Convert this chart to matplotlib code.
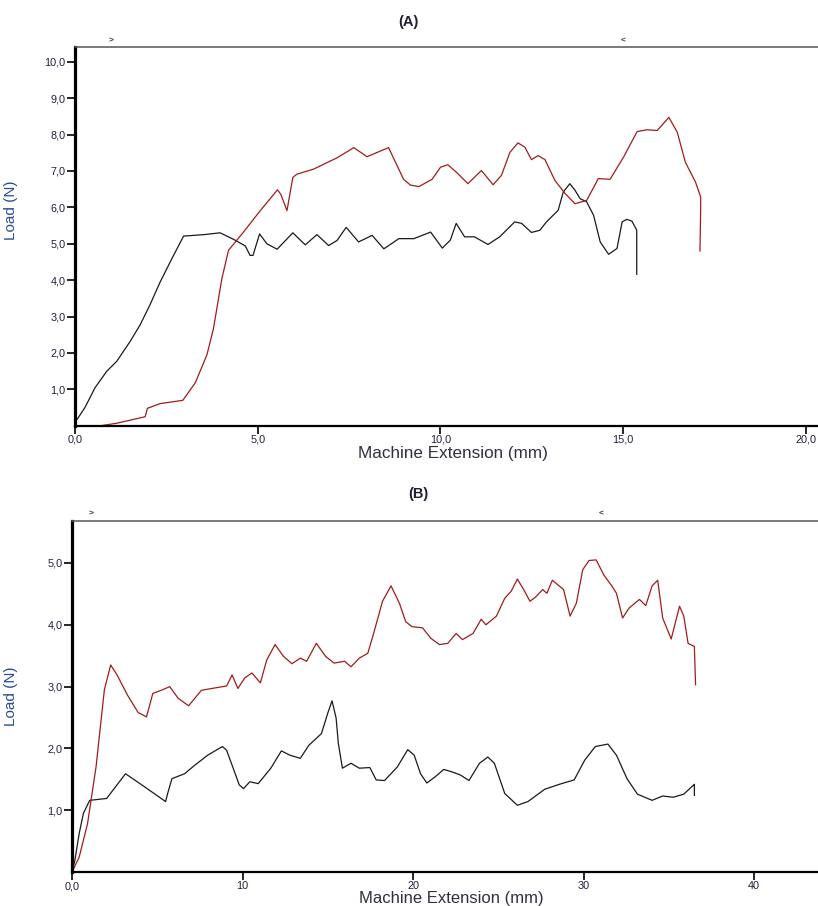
import matplotlib
matplotlib.use("Agg")
import matplotlib.pyplot as plt
from matplotlib.ticker import FuncFormatter

plt.rcParams["font.family"] = ["Liberation Sans", "DejaVu Sans"]

# ---- panel A data (Machine Extension mm, Load N) ----
a_black_x = [0.0, 0.27, 0.55, 0.87, 1.14, 1.51, 1.78, 2.05, 2.33, 2.65, 2.97, 3.52, 3.97,
             4.34, 4.66, 4.79, 4.87, 5.05, 5.25, 5.53, 5.96, 6.3, 6.62, 6.94, 7.17, 7.42,
             7.76, 8.13, 8.45, 8.86, 9.27, 9.73, 10.05, 10.27, 10.43, 10.66, 10.93, 11.3,
             11.62, 12.03, 12.22, 12.49, 12.72, 12.9, 13.22, 13.36, 13.54, 13.68, 13.82,
             14.0, 14.19, 14.37, 14.6, 14.83, 14.97, 15.1, 15.24, 15.37, 15.37]
a_black_y = [0.09, 0.5, 1.05, 1.5, 1.77, 2.32, 2.77, 3.32, 3.95, 4.59, 5.21, 5.25, 5.3,
             5.12, 4.94, 4.68, 4.68, 5.27, 5.0, 4.85, 5.3, 4.97, 5.25, 4.95, 5.09, 5.45,
             5.05, 5.23, 4.86, 5.14, 5.14, 5.32, 4.88, 5.1, 5.56, 5.19, 5.19, 4.98,
             5.19, 5.6, 5.56, 5.31, 5.37, 5.6, 5.92, 6.42, 6.65, 6.47, 6.24,
             6.15, 5.78, 5.05, 4.71, 4.87, 5.6, 5.67, 5.62, 5.37, 4.16]

a_red_x = [0.0, 0.68, 1.14, 1.92, 1.98, 2.33, 2.95, 3.29, 3.61, 3.79, 4.02, 4.2, 4.61,
           5.07, 5.54, 5.63, 5.8, 5.96, 6.07, 6.53, 7.17, 7.63, 7.99, 8.58, 8.99, 9.18,
           9.41, 9.77, 10.0, 10.2, 10.43, 10.75, 11.12, 11.44, 11.67, 11.9, 12.12, 12.31,
           12.49, 12.67, 12.86, 13.13, 13.41, 13.68, 14.0, 14.32, 14.64, 15.01, 15.38,
           15.65, 15.93, 16.25, 16.48, 16.7, 16.98, 17.12, 17.12, 17.1]
a_red_y = [0.0, 0.0, 0.07, 0.25, 0.48, 0.61, 0.7, 1.18, 1.95, 2.68, 4.05, 4.82, 5.32,
           5.91, 6.48, 6.36, 5.91, 6.82, 6.91, 7.05, 7.36, 7.64, 7.39, 7.64, 6.77, 6.61,
           6.57, 6.77, 7.1, 7.17, 6.97, 6.65, 7.01, 6.62, 6.88, 7.51, 7.77, 7.65,
           7.31, 7.42, 7.31, 6.74, 6.38, 6.1, 6.19, 6.79, 6.77, 7.38, 8.08,
           8.13, 8.11, 8.47, 8.06, 7.24, 6.69, 6.28, 5.97, 4.8]

# ---- panel B data ----
b_red_x = [0.0, 0.42, 0.91, 1.41, 1.9, 2.27, 2.64, 3.26, 3.88, 4.37, 4.74, 5.24, 5.73,
           6.23, 6.84, 7.59, 8.2, 9.07, 9.39, 9.73, 10.13, 10.55, 11.05, 11.42, 11.91,
           12.4, 12.9, 13.39, 13.76, 14.33, 14.87, 15.37, 15.99, 16.36, 16.85, 17.35,
           17.72, 18.21, 18.71, 19.2, 19.57, 19.94, 20.56, 21.05, 21.55, 22.04, 22.53,
           22.9, 23.52, 24.0, 24.27, 24.89, 25.38, 25.75, 26.12, 26.49, 26.86, 27.23,
           27.6, 27.85, 28.17, 28.83, 29.21, 29.58, 29.95, 30.32, 30.74, 31.18, 31.68,
           31.93, 32.29, 32.67, 33.28, 33.65, 34.02, 34.35, 34.64, 35.14, 35.63, 35.88,
           36.13, 36.5, 36.57]
b_red_y = [0.0, 0.24, 0.78, 1.7, 2.95, 3.35, 3.19, 2.86, 2.58, 2.51, 2.89, 2.94, 3.0,
           2.81, 2.69, 2.94, 2.97, 3.01, 3.19, 2.97, 3.14, 3.22, 3.06, 3.43, 3.68,
           3.49, 3.37, 3.46, 3.41, 3.7, 3.49, 3.38, 3.41, 3.32, 3.46, 3.54,
           3.89, 4.38, 4.63, 4.35, 4.05, 3.97, 3.95, 3.78, 3.68, 3.7, 3.86,
           3.76, 3.86, 4.09, 4.0, 4.14, 4.43, 4.54, 4.74, 4.57, 4.38, 4.46,
           4.57, 4.51, 4.72, 4.57, 4.14, 4.35, 4.89, 5.04, 5.05, 4.81, 4.62,
           4.51, 4.11, 4.27, 4.41, 4.31, 4.63, 4.72, 4.11, 3.77, 4.3, 4.14,
           3.7, 3.65, 3.03]

b_black_x = [0.0, 0.17, 0.42, 0.67, 1.04, 2.03, 3.14, 4.25, 5.49, 5.61, 5.86, 6.6, 7.21,
             7.96, 8.82, 9.07, 9.81, 10.06, 10.43, 10.92, 11.66, 12.28, 12.78, 13.39,
             13.89, 14.63, 15.0, 15.25, 15.49, 15.62, 15.86, 16.36, 16.85, 17.47, 17.84,
             18.33, 19.08, 19.69, 20.07, 20.44, 20.81, 21.3, 21.8, 22.29, 22.78, 23.28,
             23.9, 24.39, 24.77, 25.38, 26.12, 26.74, 27.73, 28.59, 29.45, 30.07, 30.69,
             31.43, 31.93, 32.55, 33.16, 34.02, 34.64, 35.26, 35.88, 36.5, 36.5]
b_black_y = [0.0, 0.19, 0.62, 0.95, 1.16, 1.19, 1.59, 1.38, 1.14, 1.27, 1.51, 1.59, 1.73,
             1.89, 2.03, 1.97, 1.41, 1.35, 1.46, 1.43, 1.68, 1.96, 1.89, 1.84,
             2.05, 2.24, 2.57, 2.77, 2.49, 2.08, 1.68, 1.76, 1.68, 1.69, 1.49,
             1.48, 1.7, 1.98, 1.89, 1.59, 1.44, 1.54, 1.66, 1.62, 1.57, 1.48,
             1.76, 1.86, 1.76, 1.27, 1.08, 1.14, 1.34, 1.42, 1.49, 1.81, 2.03,
             2.07, 1.89, 1.51, 1.26, 1.16, 1.23, 1.21, 1.26, 1.42, 1.24]

# start/end markers at top of each plot
a_marks = [1.0, 15.0]
b_marks = [1.1, 31.0]

a_yticks = [1, 2, 3, 4, 5, 6, 7, 8, 9, 10]
a_xticks = [0, 5, 10, 15, 20]
b_yticks = [1, 2, 3, 4, 5]
b_xticks = [0, 10, 20, 30, 40]
b_xticklabels = ["0,0", "10", "20", "30", "40"]

RED = "#a01c1c"
BLACK = "#1a1a1a"
TICKCOL = "#202038"
LABELBLUE = "#2a4a9a"


def comma(v, pos=None):
    return f"{v:.1f}".replace(".", ",")


def style_axes(ax):
    ax.spines["right"].set_visible(False)
    ax.spines["top"].set_color("#555555")
    ax.spines["top"].set_linewidth(1.1)
    ax.spines["left"].set_linewidth(2.3)
    ax.spines["bottom"].set_linewidth(1.6)
    ax.spines["left"].set_color("black")
    ax.spines["bottom"].set_color("black")
    ax.tick_params(axis="both", direction="out", length=5.5, width=1.2,
                   labelsize=7.8, labelcolor=TICKCOL, pad=1.5)
    ax.tick_params(axis="x", top=False, pad=1)


fig = plt.figure(figsize=(8.18, 9.06), dpi=100)

# panel A
ax1 = fig.add_axes([0.0917, 0.530, 0.9083, 0.418])
ax1.plot(a_black_x, a_black_y, color=BLACK, lw=0.9)
ax1.plot(a_red_x, a_red_y, color=RED, lw=0.9)
ax1.set_xlim(0, 20.33)
ax1.set_ylim(0, 10.4)
ax1.set_yticks(a_yticks)
ax1.set_xticks(a_xticks)
ax1.yaxis.set_major_formatter(FuncFormatter(comma))
ax1.xaxis.set_major_formatter(FuncFormatter(comma))
style_axes(ax1)
ax1.set_xlabel("Machine Extension (mm)", fontsize=12.3, color="#303040")
ax1.xaxis.set_label_coords(0.508, -0.052)
ax1.set_ylabel("Load (N)", fontsize=11, color=LABELBLUE)
ax1.yaxis.set_label_coords(-0.077, 0.57)
for xm, sym in zip(a_marks, [">", "<"]):
    ax1.text(xm, 1.016, sym, transform=ax1.get_xaxis_transform(),
             fontsize=6, fontweight="bold", color="#333333", ha="center", va="center")
fig.text(408 / 818, 1 - 22 / 906, "(A)", fontsize=10.5, fontweight="bold",
         color="#202030", ha="center", va="center")

# panel B
ax2 = fig.add_axes([0.088, 0.0375, 0.912, 0.3875])
ax2.plot(b_black_x, b_black_y, color=BLACK, lw=0.9)
ax2.plot(b_red_x, b_red_y, color=RED, lw=0.9)
ax2.set_xlim(0, 43.75)
ax2.set_ylim(0, 5.68)
ax2.set_yticks(b_yticks)
ax2.set_xticks(b_xticks)
ax2.set_xticklabels(b_xticklabels)
ax2.yaxis.set_major_formatter(FuncFormatter(comma))
style_axes(ax2)
ax2.set_xlabel("Machine Extension (mm)", fontsize=12, color="#303040")
ax2.xaxis.set_label_coords(0.508, -0.055)
ax2.set_ylabel("Load (N)", fontsize=11, color=LABELBLUE)
ax2.yaxis.set_label_coords(-0.072, 0.5)
for xm, sym in zip(b_marks, [">", "<"]):
    ax2.text(xm, 1.02, sym, transform=ax2.get_xaxis_transform(),
             fontsize=6, fontweight="bold", color="#333333", ha="center", va="center")
fig.text(418 / 818, 1 - 494 / 906, "(B)", fontsize=10.5, fontweight="bold",
         color="#202030", ha="center", va="center")

fig.savefig("out.png", dpi=100)
